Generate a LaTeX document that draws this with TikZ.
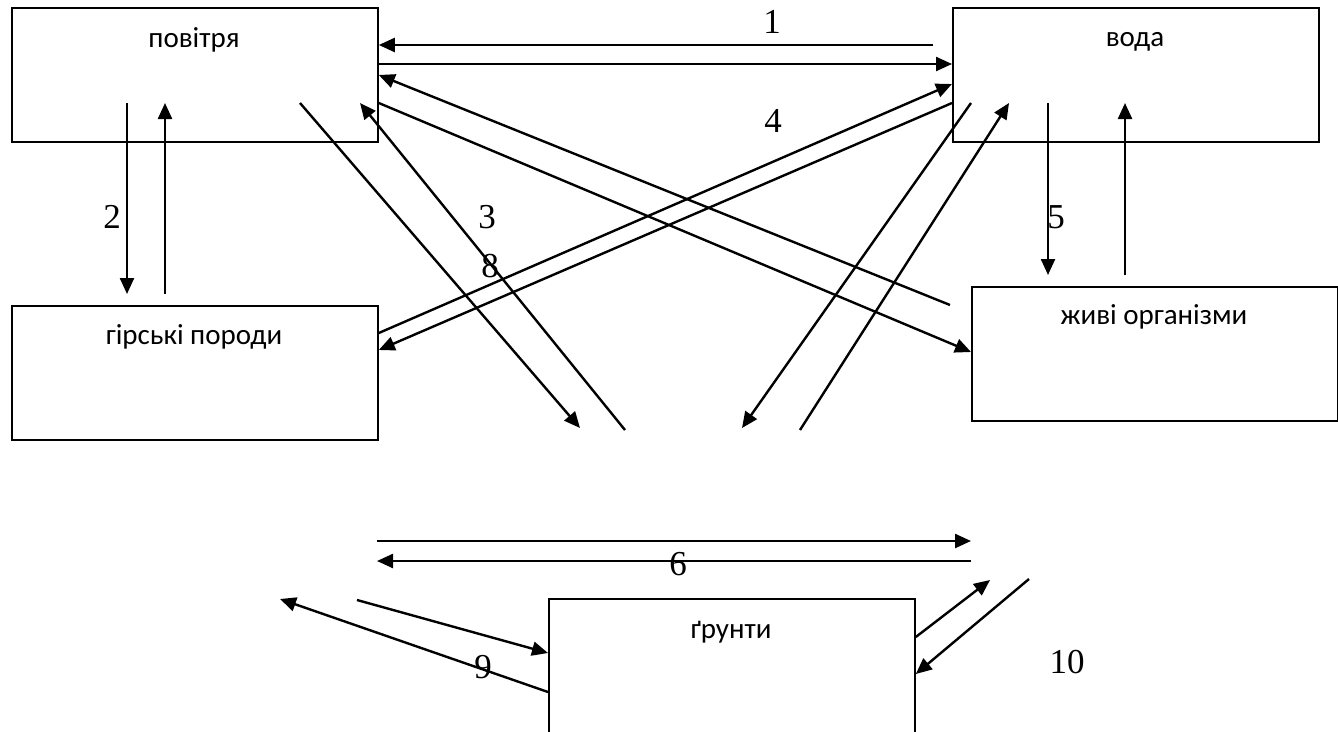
\documentclass[tikz,border=0pt]{standalone}
\usepackage{fontspec}
\setmainfont{Liberation Serif}
\newfontfamily\boxfont{Carlito}
\usetikzlibrary{arrows.meta}
\begin{document}
\begin{tikzpicture}[x=1pt,y=-1pt,
  box/.style={draw, line width=1.8pt, minimum width=366pt, minimum height=134pt, anchor=north west, inner sep=0pt},
  boxtext/.style={font=\boxfont\fontsize{29}{34}\selectfont, anchor=base, inner sep=0pt},
  num/.style={font=\fontsize{35}{40}\selectfont, anchor=base, inner sep=0pt},
  arr/.style={line width=2.4pt, -{Triangle[length=16pt,width=14pt]}},
  ln/.style={line width=2.4pt}]
\useasboundingbox (0,0) rectangle (1338,731);
% boxes
\node[box] (pov) at (11,7) {};
\node[box] (voda) at (952,7) {};
\node[box] (gir) at (11,305) {};
\node[box] (zhyvi) at (971,286) {};
\node[box, minimum height=150pt] (grunt) at (548,598) {};
% box texts
\node[boxtext] (tpov) at (194,47) {повітря};
\node[boxtext] (tvoda) at (1135,46) {вода};
\node[boxtext] (tgir) at (194,344) {гірські породи};
\node[boxtext] (tzhyvi) at (1154,324) {живі організми};
\node[boxtext] (tgrunt) at (731,638) {ґрунти};
% numbers
\node[num] (n1) at (772,33) {1};
\node[num] (n2) at (112,228) {2};
\node[num] (n3) at (487,228) {3};
\node[num] (n8) at (490,277) {8};
\node[num] (n4) at (773,132) {4};
\node[num] (n5) at (1056,228) {5};
\node[num] (n6) at (678,575) {6};
\node[num] (n9) at (483,678) {9};
\node[num] (n10) at (1067,673) {10};
% free ends
\coordinate (a1s) at (933,45);
\coordinate (y64) at (0,64);
\coordinate (y103) at (0,103);
\coordinate (y75) at (0,75);
\coordinate (y84) at (0,84);
\coordinate (y333) at (0,333);
\coordinate (y350) at (0,350);
\coordinate (y352) at (0,352);
\coordinate (a4b) at (950,305);
\coordinate (a3s) at (300,103);
\coordinate (a3e) at (580,428);
\coordinate (a3bs) at (625,430);
\coordinate (a3be) at (360,103);
\coordinate (a4cs) at (971,103);
\coordinate (a4ce) at (742,428);
\coordinate (a4ds) at (800,430);
\coordinate (a4de) at (1009,103);
\coordinate (a2s) at (127,103);
\coordinate (a2e) at (127,294);
\coordinate (a2bs) at (165,294);
\coordinate (a2be) at (165,103);
\coordinate (a5s) at (1048,103);
\coordinate (a5e) at (1048,275);
\coordinate (a5bs) at (1125,275);
\coordinate (a5be) at (1125,103);
\coordinate (a6s) at (377,541);
\coordinate (a6e) at (971,541);
\coordinate (a6bs) at (971,561);
\coordinate (a6be) at (377,561);
\coordinate (a9s) at (357,600);
\coordinate (y653) at (0,653);
\coordinate (y692) at (0,692);
\coordinate (a9e) at (280,599);
\coordinate (y637) at (0,637);
\coordinate (a10e) at (990,580);
\coordinate (a10s) at (1029,579);
\coordinate (y674) at (0,674);
% connectors
\draw[arr] (a1s) -- (a1s -| pov.east);
\draw[arr] (y64 -| pov.east) -- (y64 -| voda.west);
\draw[arr] (y103 -| pov.east) -- (y352 -| zhyvi.west);
\draw[arr] (a4b) -- (y75 -| pov.east);
\draw[arr] (y333 -| gir.east) -- (y84 -| voda.west);
\draw[arr] (y103 -| voda.west) -- (y350 -| gir.east);
\draw[arr] (a3s) -- (a3e);
\draw[arr] (a3bs) -- (a3be);
\draw[arr] (a4cs) -- (a4ce);
\draw[arr] (a4ds) -- (a4de);
\draw[arr] (a2s) -- (a2e);
\draw[arr] (a2bs) -- (a2be);
\draw[arr] (a5s) -- (a5e);
\draw[arr] (a5bs) -- (a5be);
\draw[arr] (a6s) -- (a6e);
\draw[arr] (a6bs) -- (a6be);
\draw[arr] (a9s) -- (y653 -| grunt.west);
\draw[arr] (y692 -| grunt.west) -- (a9e);
\draw[arr] (y637 -| grunt.east) -- (a10e);
\draw[arr] (a10s) -- (y674 -| grunt.east);
\end{tikzpicture}
\end{document}
